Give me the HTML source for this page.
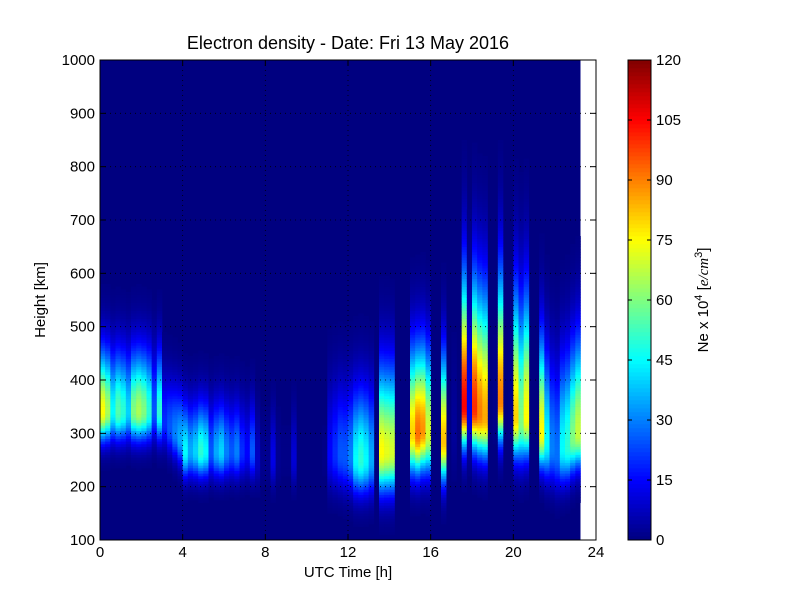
<!DOCTYPE html>
<html><head><meta charset="utf-8"><style>
body{margin:0;background:#fff;}
svg text{font-family:"Liberation Sans",sans-serif;}
</style></head><body>
<svg id="chart" width="800" height="600" xmlns="http://www.w3.org/2000/svg">
<rect width="800" height="600" fill="#fff"/>
<text x="348" y="49" font-size="18" text-anchor="middle">Electron density - Date: Fri 13 May 2016</text>
<rect x="100" y="60" width="496" height="480" fill="#fff"/>
<g id="cells"></g>
<g id="grid"></g>
<rect x="100" y="60" width="496" height="480" fill="none" stroke="#000" stroke-width="1"/>
<g id="xticks"></g>
<g id="yticks"></g>
<text x="348" y="577" font-size="15" text-anchor="middle">UTC Time [h]</text>
<text transform="translate(45,300) rotate(-90)" font-size="15" text-anchor="middle">Height [km]</text>
<g id="cbar"></g>
<rect x="628" y="60" width="23" height="480" fill="none" stroke="#000"/>
<g id="cticks"></g>
<text transform="translate(708,300) rotate(-90)" font-size="15" text-anchor="middle">Ne x 10<tspan dy="-6" font-size="11">4</tspan><tspan dy="6"> [</tspan><tspan font-style="italic" font-family="Liberation Serif">e/cm</tspan><tspan dy="-6" font-size="11">3</tspan><tspan dy="6">]</tspan></text>
</svg>
<script>
const times=[];for(let i=0;i<93;i++)times.push(i*0.25);
const peakNe=[75,65,45,55,50,40,60,65,60,50,25,50,20,25,30,35,45,35,40,50,45,25,35,40,30,25,30,20,15,25,8,2,2,12,2,1,1,10,0,0,0,0,0,1,15,20,25,25,30,45,50,45,35,0,75,72,70,0,0,0,80,92,88,70,0,0,82,0,3,0,105,12,100,90,85,0,1,90,0,1,80,60,75,0,0,75,45,30,28,45,50,60,68];
const peakHeight=[340,340,340,340,340,340,340,340,340,340,340,340,320,310,300,290,265,265,265,265,265,265,265,265,265,265,265,265,265,265,250,250,250,250,250,250,250,250,250,250,250,250,250,250,260,260,260,255,255,250,250,250,250,250,265,265,265,280,280,280,300,300,305,300,280,280,285,300,300,300,350,340,345,335,330,330,330,360,340,340,330,320,330,300,300,300,280,270,260,270,275,290,300];
const topScale=[110,110,110,110,110,110,110,110,110,110,110,110,90,90,90,90,90,90,90,90,90,90,90,90,90,90,90,90,90,90,90,90,90,90,90,90,90,90,90,90,90,90,90,90,130,130,130,130,130,130,130,130,130,150,150,150,150,150,150,150,150,150,150,150,150,150,150,150,150,150,220,220,220,220,220,220,220,220,220,220,220,220,220,170,170,170,170,170,170,170,170,170,170];
const bottomScale=[50,50,50,50,50,50,50,50,50,50,50,50,45,45,45,45,45,45,45,45,45,45,45,45,45,45,45,45,45,45,45,45,45,45,45,45,45,45,45,45,45,45,45,45,60,60,60,60,60,60,60,60,60,70,70,70,70,70,70,70,70,70,70,70,70,70,70,70,70,70,70,70,70,70,70,70,70,70,70,70,70,70,70,60,60,60,60,60,60,60,60,60,60];
const xTicks=[0,4,8,12,16,20,24];
const yTicks=[100,200,300,400,500,600,700,800,900,1000];
const cTicks=[0,15,30,45,60,75,90,105,120];
const NS="http://www.w3.org/2000/svg";
const xs=t=>100+t/24*496, ys=h=>540-(h-100)/900*480, cs=v=>540-v/120*480;
function jet(x){x=Math.max(0,Math.min(1,x));const c=v=>Math.round(255*Math.max(0,Math.min(1,v)));
return `rgb(${c(1.5-Math.abs(4*x-3))},${c(1.5-Math.abs(4*x-2))},${c(1.5-Math.abs(4*x-1))})`;}
function mk(tag,attrs,parent){const e=document.createElementNS(NS,tag);for(const k in attrs)e.setAttribute(k,attrs[k]);parent.appendChild(e);return e;}
const cells=document.getElementById('cells');
const bg=mk('rect',{x:xs(0),y:ys(1000),width:xs(23.25)-xs(0),height:ys(100)-ys(1000),fill:jet(0)},cells);


const dh=5;
times.forEach((t,i)=>{
  const x0=xs(t),w=xs(t+0.25)-x0;
  for(let h=100;h<1000;h+=dh){
    const hc=h+dh/2,s=hc>=peakHeight[i]?topScale[i]:bottomScale[i];
    const v=peakNe[i]*Math.exp(-Math.pow((hc-peakHeight[i])/s,2));
    if(v<0.6)continue;
    const r=mk('rect',{x:x0.toFixed(2),y:ys(h+dh).toFixed(2),width:(w+0.3).toFixed(2),height:(ys(h)-ys(h+dh)+0.3).toFixed(2),fill:jet(v/120)},cells);
    
    
  }
});
const grid=document.getElementById('grid'),xt=document.getElementById('xticks'),yt=document.getElementById('yticks');
xTicks.forEach(t=>{
  const x=xs(t);
  if(t>0&&t<24){const g=mk('line',{x1:x,x2:x,y1:60,y2:540,stroke:'#000','stroke-width':0.8,'stroke-dasharray':'1,4'},grid);
  
  }
  mk('line',{x1:x,x2:x,y1:540,y2:534,stroke:'#000'},xt);mk('line',{x1:x,x2:x,y1:60,y2:66,stroke:'#000'},xt);
  const l=mk('text',{x:x,y:557,'font-size':15,'text-anchor':'middle'},xt);l.textContent=t;
  
  
});
yTicks.forEach(h=>{
  const y=ys(h);
  if(h>100&&h<1000){const g=mk('line',{x1:100,x2:596,y1:y,y2:y,stroke:'#000','stroke-width':0.8,'stroke-dasharray':'1,4'},grid);
  
  }
  mk('line',{x1:100,x2:106,y1:y,y2:y,stroke:'#000'},yt);mk('line',{x1:590,x2:596,y1:y,y2:y,stroke:'#000'},yt);
  const l=mk('text',{x:95,y:y+5,'font-size':15,'text-anchor':'end'},yt);l.textContent=h;
  
  
});
const cb=document.getElementById('cbar'),ct=document.getElementById('cticks');
for(let v=0;v<120;v+=1){const r=mk('rect',{x:628,y:cs(v+1),width:23,height:cs(v)-cs(v+1)+0.3,fill:jet((v+0.5)/120)},cb);

}
cTicks.forEach(v=>{const y=cs(v);
  mk('line',{x1:628,x2:632,y1:y,y2:y,stroke:'#000'},ct);mk('line',{x1:647,x2:651,y1:y,y2:y,stroke:'#000'},ct);
  const l=mk('text',{x:656,y:y+5,'font-size':15},ct);l.textContent=v;
  
  
});
</script>
</body></html>
